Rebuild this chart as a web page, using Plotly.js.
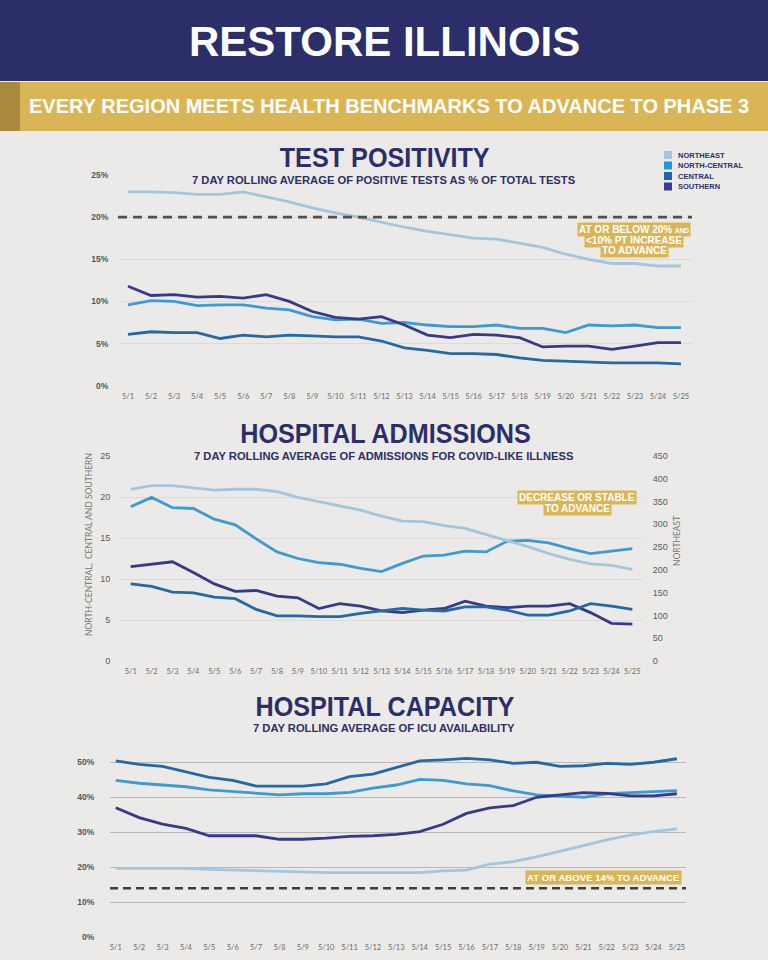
<!DOCTYPE html>
<html>
<head>
<meta charset="utf-8">
<script src="https://cdn.plot.ly/plotly-3.0.1.min.js"></script>
<style>
  html, body { margin: 0; padding: 0; background: #ebeae8; }
  #chart { width: 768px; height: 960px; }
</style>
</head>
<body>
<div id="chart"></div>
<script>
// ---------------- DATA ----------------
const dates = ['5/1','5/2','5/3','5/4','5/5','5/6','5/7','5/8','5/9','5/10','5/11','5/12','5/13',
               '5/14','5/15','5/16','5/17','5/18','5/19','5/20','5/21','5/22','5/23','5/24','5/25'];
const regions = ['NORTHEAST', 'NORTH-CENTRAL', 'CENTRAL', 'SOUTHERN'];

// Test positivity (% of total tests)
const posNortheast    = [23.0,23.0,22.9,22.7,22.7,23.0,22.4,21.8,21.1,20.5,20.0,19.4,18.8,18.3,17.9,17.5,17.4,16.9,16.4,15.6,15.0,14.5,14.5,14.2,14.2];
const posNorthCentral = [9.6,10.1,10.0,9.5,9.6,9.6,9.2,9.0,8.2,7.8,7.9,7.4,7.5,7.2,7.0,7.0,7.2,6.8,6.8,6.3,7.2,7.1,7.2,6.9,6.9];
const posCentral      = [6.1,6.4,6.3,6.3,5.6,6.0,5.8,6.0,5.9,5.8,5.8,5.3,4.5,4.2,3.8,3.8,3.7,3.3,3.0,2.9,2.8,2.7,2.7,2.7,2.6];
const posSouthern     = [11.8,10.7,10.8,10.5,10.6,10.4,10.8,10.0,8.8,8.1,7.9,8.2,7.2,6.0,5.7,6.1,6.0,5.7,4.6,4.7,4.7,4.3,4.7,5.1,5.1];

// Hospital admissions (Northeast on right axis)
const admNortheast    = [377,385,385,380,375,377,377,372,359,350,340,331,318,307,306,297,291,278,265,251,236,223,213,210,201];
const admNorthCentral = [18.8,19.95,18.7,18.6,17.3,16.6,14.9,13.3,12.5,12.0,11.8,11.3,10.9,11.9,12.8,12.9,13.4,13.3,14.6,14.7,14.4,13.7,13.1,13.4,13.7];
const admCentral      = [9.4,9.1,8.4,8.3,7.8,7.6,6.3,5.5,5.5,5.4,5.4,5.8,6.1,6.4,6.2,6.1,6.6,6.6,6.2,5.6,5.6,6.1,7.0,6.7,6.3];
const admSouthern     = [11.5,11.8,12.1,10.8,9.4,8.5,8.6,7.9,7.7,6.4,7.0,6.7,6.1,5.9,6.2,6.4,7.3,6.7,6.5,6.7,6.7,7.0,5.9,4.6,4.5];

// ICU availability (%)
const icuNortheast    = [19.7,19.7,19.7,19.7,19.4,19.2,19.0,18.8,18.5,18.5,18.5,18.5,18.5,18.5,19.0,19.2,20.9,21.6,23.0,24.7,26.2,27.8,29.2,30.2,31.0];
const icuNorthCentral = [44.8,44.0,43.5,43.0,42.1,41.6,41.0,40.7,41.0,41.0,41.4,42.6,43.5,45.1,44.8,43.8,43.3,41.8,40.7,40.4,40.0,41.0,41.4,41.6,41.9];
const icuCentral      = [50.4,49.4,48.8,47.3,45.7,44.8,43.2,43.2,43.2,43.8,45.9,46.6,48.6,50.4,50.7,51.1,50.7,49.7,50.0,48.8,49.0,49.7,49.4,50.0,51.0];
const icuSouthern     = [37.0,34.2,32.3,31.1,29.0,29.0,29.0,28.0,28.0,28.3,28.8,29.0,29.4,30.2,32.3,35.4,37.0,37.6,40.0,40.7,41.3,41.1,40.4,40.4,41.0];

const posThreshold = 20;
const icuThreshold = 14;
const posTicks = [0,5,10,15,20,25];
const admLeftTicks = [0,5,10,15,20,25];
const admRightTicks = [0,50,100,150,200,250,300,350,400,450];
const icuTicks = [0,10,20,30,40,50];

// ---------------- STYLE ----------------
const W = 768, H = 960;
const px = v => v / W;
const py = v => 1 - v / H;
const NAVY = '#2b2e68';
const GOLD = '#dab556';
const lineColors = ['#a3c6df', '#3c9bd2', '#2369a6', '#363a88'];
const legendColors = ['#9fc6e2', '#1f9ad6', '#1b69ab', '#393d92'];
const SANS = '"Liberation Sans", Arial, sans-serif';
const TICKF = 'Lato, "Open Sans", sans-serif';
const LW = 2.8;

function line(x, y, color, xa, ya, name) {
  return { type: 'scatter', mode: 'lines', x: x, y: y, name: name,
           xaxis: xa, yaxis: ya, showlegend: false, hoverinfo: 'skip',
           line: { color: color, width: LW, shape: 'linear' } };
}

const traces = [
  line(dates, posCentral, lineColors[2], 'x', 'y', regions[2]),
  line(dates, posNorthCentral, lineColors[1], 'x', 'y', regions[1]),
  line(dates, posSouthern, lineColors[3], 'x', 'y', regions[3]),
  line(dates, posNortheast, lineColors[0], 'x', 'y', regions[0]),

  line(dates, admNortheast, lineColors[0], 'x2', 'y3', regions[0]),
  line(dates, admNorthCentral, lineColors[1], 'x2', 'y2', regions[1]),
  line(dates, admSouthern, lineColors[3], 'x2', 'y2', regions[3]),
  line(dates, admCentral, lineColors[2], 'x2', 'y2', regions[2]),

  line(dates, icuNortheast, lineColors[0], 'x3', 'y4', regions[0]),
  line(dates, icuCentral, lineColors[2], 'x3', 'y4', regions[2]),
  line(dates, icuNorthCentral, lineColors[1], 'x3', 'y4', regions[1]),
  line(dates, icuSouthern, lineColors[3], 'x3', 'y4', regions[3])
];

const xTickFont = { family: TICKF, size: 7.5, color: '#6a6a6a' };
const yTickFont = { family: SANS, size: 8.5, color: '#555555', weight: 'bold' };
const pct = arr => arr.map(v => v + '%');

function xAxis(domain, range, anchor) {
  return { type: 'category', domain: domain, range: range, anchor: anchor,
           showgrid: false, zeroline: false, showline: false,
           ticks: 'outside', ticklen: 3, tickcolor: 'rgba(0,0,0,0)',
           tickfont: xTickFont, fixedrange: true };
}

const layout = {
  width: W, height: H,
  margin: { l: 0, r: 0, t: 0, b: 0 },
  paper_bgcolor: '#ebeae8',
  plot_bgcolor: 'rgba(0,0,0,0)',
  showlegend: false,
  // Chart 1: test positivity
  xaxis: xAxis([px(118), px(692)], [-0.434, 24.48], 'y'),
  yaxis: { domain: [py(385.7), py(175)], range: [0, 25], tickmode: 'array',
           tickvals: posTicks, ticktext: pct(posTicks),
           showgrid: true, gridcolor: '#dcdbd9', gridwidth: 1, zeroline: false,
           ticks: 'outside', ticklen: 7, tickcolor: 'rgba(0,0,0,0)', tickfont: yTickFont,
           anchor: 'x', fixedrange: true },
  // Chart 2: admissions
  xaxis2: xAxis([px(118), px(643)], [-0.608, 24.51], 'y2'),
  yaxis2: { domain: [py(661), py(456)], range: [0, 25], tickmode: 'array', tickvals: admLeftTicks,
            showgrid: true, gridcolor: '#dcdbd9', gridwidth: 1, zeroline: false,
            ticks: 'outside', ticklen: 5, tickcolor: 'rgba(0,0,0,0)',
            tickfont: { family: SANS, size: 9, color: '#5a5a5a' }, anchor: 'x2', fixedrange: true },
  yaxis3: { domain: [py(661), py(456)], range: [0, 450], tickmode: 'array', tickvals: admRightTicks,
            overlaying: 'y2', side: 'right', anchor: 'x2',
            showgrid: false, zeroline: false,
            ticks: 'outside', ticklen: 7, tickcolor: 'rgba(0,0,0,0)',
            tickfont: { family: SANS, size: 9, color: '#5a5a5a' }, fixedrange: true },
  // Chart 3: ICU
  xaxis3: xAxis([px(110), px(686)], [-0.248, 24.39], 'y4'),
  yaxis4: { domain: [py(937.3), py(750)], range: [0, 53.5], tickmode: 'array',
            tickvals: icuTicks, ticktext: pct(icuTicks),
            showgrid: true, gridcolor: '#b9b8b6', gridwidth: 1, zeroline: false,
            ticks: 'outside', ticklen: 13, tickcolor: 'rgba(0,0,0,0)', tickfont: yTickFont,
            anchor: 'x3', fixedrange: true },
  shapes: [],
  annotations: []
};

// Header bands
layout.shapes.push(
  { type: 'rect', xref: 'paper', yref: 'paper', x0: 0, x1: 1, y0: py(81), y1: 1,
    fillcolor: NAVY, line: { width: 0 }, layer: 'below' },
  { type: 'rect', xref: 'paper', yref: 'paper', x0: 0, x1: 1, y0: py(131), y1: py(82),
    fillcolor: GOLD, line: { width: 0 }, layer: 'below' },
  { type: 'rect', xref: 'paper', yref: 'paper', x0: 0, x1: px(20), y0: py(131), y1: py(82),
    fillcolor: '#a9893d', line: { width: 0 }, layer: 'below' }
);

// Threshold dashed lines
layout.shapes.push(
  { type: 'line', xref: 'x domain', yref: 'y', x0: 0, x1: 1, y0: posThreshold, y1: posThreshold,
    line: { color: '#4f4f4f', width: 2.6, dash: '9px,6px' } },
  { type: 'line', xref: 'x3 domain', yref: 'y4', x0: 0, x1: 1, y0: icuThreshold, y1: icuThreshold,
    line: { color: '#3d3d3d', width: 2.6, dash: '8px,5px' } }
);

// Legend (squares + labels)
const legendY = [155, 165.5, 176, 186.5];
regions.forEach((r, i) => {
  layout.shapes.push({ type: 'rect', xref: 'paper', yref: 'paper',
    x0: px(664), x1: px(672), y0: py(legendY[i] + 4), y1: py(legendY[i] - 4),
    fillcolor: legendColors[i], line: { width: 0 } });
  layout.annotations.push({ xref: 'paper', yref: 'paper', x: px(676), y: py(legendY[i]),
    xanchor: 'left', yanchor: 'middle', showarrow: false, text: r,
    font: { family: SANS, size: 7.5, color: NAVY, weight: 'bold' } });
});

function txt(text, x, y, size, color, family, extra) {
  return Object.assign({ xref: 'paper', yref: 'paper', x: px(x), y: py(y),
    xanchor: 'center', yanchor: 'middle', showarrow: false, text: text,
    font: { family: family, size: size, color: color, weight: 'bold' } }, extra || {});
}

// Header text
layout.annotations.push(
  txt('RESTORE ILLINOIS', 384, 42, 42, '#ffffff', SANS),
  txt('EVERY REGION MEETS HEALTH BENCHMARKS TO ADVANCE TO PHASE 3', 389, 106, 20, '#ffffff', SANS)
);

// Chart titles (condensed horizontally after render)
const condensedStart = layout.annotations.length;
layout.annotations.push(
  txt('TEST POSITIVITY', 385, 157, 28, NAVY, SANS),
  txt('HOSPITAL ADMISSIONS', 385, 433, 28, NAVY, SANS),
  txt('HOSPITAL CAPACITY', 385, 706, 28, NAVY, SANS)
);
const condensedEnd = layout.annotations.length;
layout.annotations.push(
  txt('7 DAY ROLLING AVERAGE OF POSITIVE TESTS AS % OF TOTAL TESTS', 384, 180.5, 11.2, NAVY, SANS),
  txt('7 DAY ROLLING AVERAGE OF ADMISSIONS FOR COVID-LIKE ILLNESS', 384, 456, 11.2, NAVY, SANS),
  txt('7 DAY ROLLING AVERAGE OF ICU AVAILABILITY', 384, 727.5, 11.2, NAVY, SANS)
);

// Axis titles chart 2
layout.annotations.push(
  txt('NORTH-CENTRAL,  CENTRAL AND SOUTHERN', 89, 545, 8.5, '#777777', TICKF,
      { textangle: -90, font: { family: TICKF, size: 8.5, color: '#777777', weight: 'normal' } }),
  txt('NORTHEAST', 677, 541, 8.5, '#777777', TICKF,
      { textangle: -90, font: { family: TICKF, size: 8.5, color: '#777777', weight: 'normal' } })
);

// Gold callouts
const calloutFont = (s) => ({ family: SANS, size: s, color: '#ffffff', weight: 'bold' });
function callout(text, x, y, size) {
  return { xref: 'paper', yref: 'paper', x: px(x), y: py(y), xanchor: 'center', yanchor: 'middle',
           showarrow: false, text: text, bgcolor: GOLD, borderpad: 1, font: calloutFont(size) };
}
layout.annotations.push(
  callout('AT OR BELOW 20% <span style="font-size:6.5px">AND</span>', 634, 229, 10),
  callout('<10% PT INCREASE', 634, 240, 10),
  callout('TO ADVANCE', 634, 250.5, 10),
  callout('DECREASE OR STABLE', 577, 497, 10),
  callout('TO ADVANCE', 577, 508, 10),
  callout('AT OR ABOVE 14% TO ADVANCE', 603, 877.5, 9.6)
);

Plotly.newPlot('chart', traces, layout, { staticPlot: true, displayModeBar: false }).then(() => {
  document.querySelectorAll('#chart g.annotation').forEach(g => {
    const idx = +g.getAttribute('data-index');
    if (idx >= condensedStart && idx < condensedEnd) {
      const t = g.querySelector('text.annotation-text');
      if (t) {
        t.style.transformBox = 'fill-box';
        t.style.transformOrigin = 'center';
        t.style.transform = 'scaleX(0.9)';
      }
    }
  });
});
</script>
</body>
</html>
